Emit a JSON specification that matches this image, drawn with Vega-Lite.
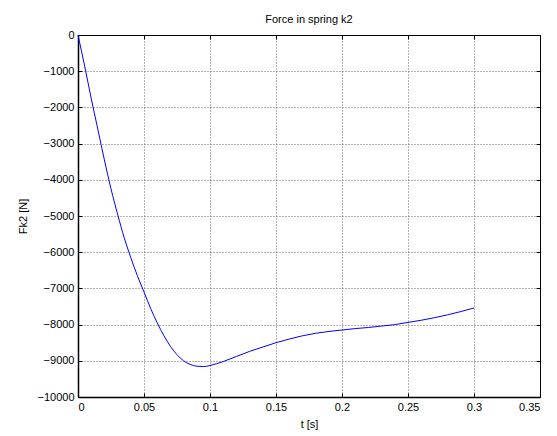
{
  "$schema": "https://vega.github.io/schema/vega-lite/v6.json",
  "width": 462,
  "height": 362,
  "autosize": {"type": "none"},
  "padding": {"left": 78, "top": 35, "right": 17, "bottom": 39},
  "background": "white",
  "title": {"text": "Force in spring k2", "font": "Liberation Sans", "fontSize": 11, "fontWeight": "normal", "color": "black", "offset": 4},
  "config": {
    "view": {"stroke": "black", "strokeWidth": 1},
    "axis": {
      "labelFont": "Liberation Sans", "labelFontSize": 11, "labelColor": "black",
      "titleFont": "Liberation Sans", "titleFontSize": 11, "titleFontWeight": "normal", "titleColor": "black",
      "domainColor": "black", "domainWidth": 1.5, "tickColor": "black", "tickSize": -4,
      "gridColor": "#444", "gridDash": [1, 2], "gridOpacity": 0.8,
      "labelPadding": 8
    }
  },
  "data": {"values": [
    {"t": 0, "F": 0}, {"t": 0.005, "F": -850}, {"t": 0.01, "F": -1750}, {"t": 0.015, "F": -2600},
    {"t": 0.02, "F": -3450}, {"t": 0.025, "F": -4250}, {"t": 0.03, "F": -4950}, {"t": 0.035, "F": -5600},
    {"t": 0.04, "F": -6150}, {"t": 0.045, "F": -6650}, {"t": 0.05, "F": -7100}, {"t": 0.055, "F": -7550},
    {"t": 0.06, "F": -7950}, {"t": 0.065, "F": -8300}, {"t": 0.07, "F": -8600}, {"t": 0.075, "F": -8830},
    {"t": 0.08, "F": -9000}, {"t": 0.085, "F": -9100}, {"t": 0.09, "F": -9150}, {"t": 0.095, "F": -9160},
    {"t": 0.1, "F": -9130}, {"t": 0.11, "F": -9020}, {"t": 0.12, "F": -8880}, {"t": 0.13, "F": -8740},
    {"t": 0.14, "F": -8620}, {"t": 0.15, "F": -8500}, {"t": 0.16, "F": -8400}, {"t": 0.17, "F": -8310},
    {"t": 0.18, "F": -8240}, {"t": 0.19, "F": -8190}, {"t": 0.2, "F": -8150}, {"t": 0.21, "F": -8110},
    {"t": 0.22, "F": -8080}, {"t": 0.23, "F": -8040}, {"t": 0.24, "F": -8000}, {"t": 0.25, "F": -7940},
    {"t": 0.26, "F": -7880}, {"t": 0.27, "F": -7810}, {"t": 0.28, "F": -7730}, {"t": 0.29, "F": -7640},
    {"t": 0.3, "F": -7540}
  ]},
  "layer": [
    {
      "mark": {"type": "line", "color": "#0000ff", "strokeWidth": 1, "interpolate": "monotone"},
      "encoding": {
        "x": {"field": "t", "type": "quantitative", "scale": {"domain": [0, 0.35], "nice": false},
              "axis": {"values": [0, 0.05, 0.1, 0.15, 0.2, 0.25, 0.3, 0.35], "title": "t [s]", "titlePadding": 6, "labelPadding": 8, "format": "~g"}},
        "y": {"field": "F", "type": "quantitative", "scale": {"domain": [-10000, 0], "nice": false},
              "axis": {"values": [0, -1000, -2000, -3000, -4000, -5000, -6000, -7000, -8000, -9000, -10000], "title": "Fk2  [N]", "titlePadding": 8, "format": "d"}}
      }
    },
    {
      "mark": {"type": "line", "opacity": 0},
      "encoding": {
        "x": {"field": "t", "type": "quantitative", "axis": {"orient": "top", "values": [0, 0.05, 0.1, 0.15, 0.2, 0.25, 0.3, 0.35], "labels": false, "grid": false, "title": null, "domainWidth": 1}},
        "y": {"field": "F", "type": "quantitative", "axis": {"orient": "right", "values": [0, -1000, -2000, -3000, -4000, -5000, -6000, -7000, -8000, -9000, -10000], "labels": false, "grid": false, "title": null, "domainWidth": 1}}
      }
    }
  ],
  "resolve": {"axis": {"x": "independent", "y": "independent"}}
}
